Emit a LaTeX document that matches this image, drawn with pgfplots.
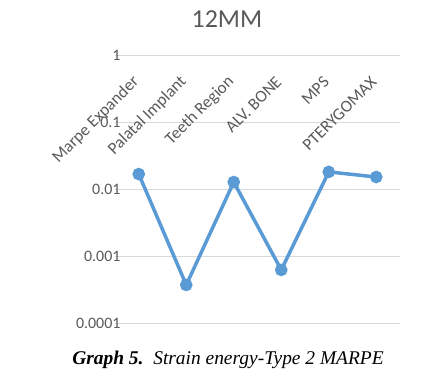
\documentclass[border=0pt]{standalone}
\usepackage{fontspec}
\setmainfont{Carlito}
\newfontfamily\capfont{Liberation Serif}
\usepackage{pgfplots}
\pgfplotsset{compat=1.18}
\definecolor{linec}{HTML}{5B9BD5}
\definecolor{txt}{HTML}{595959}
\definecolor{gridc}{HTML}{D9D9D9}
\begin{document}
\begin{tikzpicture}
\useasboundingbox (-115bp,-60bp) rectangle (321bp,323bp);
\begin{axis}[
  at={(0,0)}, anchor=south west,
  scale only axis, width=285bp, height=268bp,
  ymode=log, ymin=1e-4, ymax=1,
  xmin=-0.5, xmax=5.5,
  axis line style={draw=none},
  major tick length=0pt, minor tick length=0pt,
  yminorticks=false, tick style={draw=none},
  ymajorgrids, major grid style={gridc, line width=0.8bp},
  ytick={1e-4,1e-3,1e-2,1e-1,1},
  yticklabels={0.0001,0.001,0.01,0.1,1},
  yticklabel style={font=\fontsize{16}{16}\selectfont, text=txt, anchor=east, xshift=9bp},
  /pgf/number format/assume math mode=true,
  xtick={0,1,2,3,4,5},
  xticklabels={Marpe Expander,Palatal Implant,Teeth Region,ALV. BONE,MPS,PTERYGOMAX},
  xticklabel pos=upper,
  xticklabel style={font=\fontsize{17}{17}\selectfont, text=txt, yshift=-22bp, rotate=45, anchor=east},
  clip=false,
]
\addplot[linec, line width=3.5bp, mark=*, mark size=4.5bp, mark options={fill=linec, draw=linec}]
  coordinates {(0,0.0167) (1,0.00037) (2,0.0127) (3,0.00062) (4,0.018) (5,0.0151)};
\end{axis}
\node[font=\fontsize{26}{26}\selectfont, text=txt] at (112bp,304bp) {12MM};
\node[font=\capfont\fontsize{19.5}{19.5}\selectfont] at (113bp,-37bp) {\textbf{\textit{Graph 5.}}\ \ \textit{Strain energy-Type 2 MARPE}};
\end{tikzpicture}
\end{document}
